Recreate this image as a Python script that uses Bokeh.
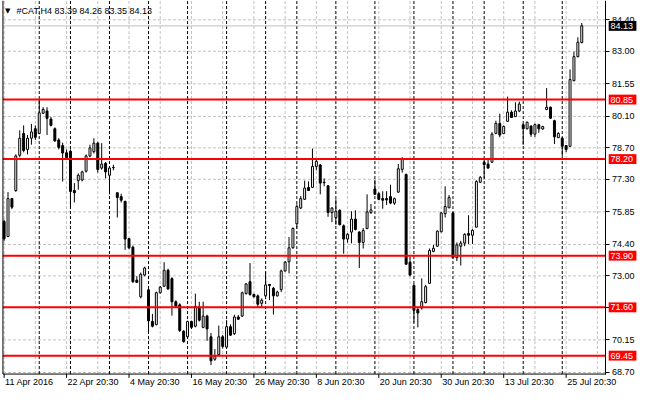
from bokeh.plotting import figure
from bokeh.models import (Range1d, LinearAxis, FixedTicker, PrintfTickFormatter,
                          Label, ColumnDataSource)
from bokeh.core.properties import value
from bokeh.embed import file_html
from bokeh.resources import INLINE

FONT = "Liberation Sans"

title_text = "#CAT,H4  83.39 84.26 83.35 84.13"

opens = [
    75.42, 74.75, 76.44, 76.80, 78.37, 79.34, 78.63, 79.13, 79.55, 79.34,
    80.24, 80.34, 79.98, 79.55, 79.05, 78.80, 78.48, 78.55, 76.80, 77.24,
    77.27, 77.66, 78.34, 78.53, 78.91, 77.80, 78.01, 77.48, 77.82, 76.70,
    76.53, 76.32, 74.66, 74.28, 72.81, 72.07, 73.04, 72.38, 70.97, 70.83,
    72.25, 72.54, 73.25, 72.88, 71.85, 71.71, 70.54, 70.29, 70.97, 70.76,
    71.60, 70.71, 71.21, 70.29, 69.29, 69.50, 70.29, 69.83, 70.74, 70.43,
    71.17, 71.21, 72.21, 72.74, 72.17, 72.11, 71.78, 72.11, 72.62, 72.45,
    72.11, 72.39, 73.22, 73.63, 74.25, 75.32, 76.02, 76.41, 76.94, 76.94,
    77.87, 77.94, 77.17, 77.01, 75.82, 75.60, 75.92, 75.23, 74.64, 74.95,
    75.53, 74.95, 74.49, 75.11, 75.82, 76.87, 76.66, 76.44, 76.44, 76.53,
    76.24, 76.73, 77.74, 77.51, 73.61, 72.57, 71.50, 71.57, 71.81, 72.67,
    74.09, 74.32, 74.96, 75.77, 76.03, 75.80, 73.81, 74.32, 74.46, 74.89,
    74.81, 75.17, 77.17, 78.06, 77.98, 78.06, 79.34, 79.79, 79.34, 79.88,
    80.29, 80.09, 80.34, 79.73, 79.55, 79.67, 79.31, 79.73, 79.54, 80.41,
    80.51, 79.91, 79.15, 79.13, 78.80, 78.77, 81.69, 82.76, 83.39,
]
highs = [
    75.50, 76.73, 76.46, 78.41, 79.48, 79.70, 79.27, 79.77, 79.70, 80.84,
    80.51, 80.51, 80.08, 79.61, 79.13, 78.93, 78.63, 78.63, 77.13, 77.56,
    77.68, 78.41, 78.84, 79.13, 78.97, 78.91, 78.07, 77.86, 77.95, 76.72,
    76.66, 76.34, 74.69, 74.35, 72.99, 73.15, 73.41, 72.42, 71.31, 72.30,
    72.55, 73.61, 73.32, 72.94, 71.91, 71.78, 70.58, 71.01, 71.01, 72.21,
    71.85, 71.85, 71.27, 70.46, 69.74, 70.79, 70.37, 71.03, 70.84, 71.27,
    71.26, 72.30, 72.68, 73.57, 72.21, 72.17, 72.00, 73.16, 72.64, 72.51,
    72.34, 73.28, 73.66, 74.73, 75.16, 76.19, 76.56, 77.24, 77.21, 78.67,
    78.20, 77.98, 77.34, 77.04, 76.06, 76.41, 75.97, 75.29, 74.90, 75.88,
    75.92, 74.99, 75.13, 76.63, 76.20, 77.27, 76.73, 76.77, 76.77, 77.06,
    76.49, 77.98, 78.28, 77.56, 73.85, 72.64, 71.57, 72.89, 72.60, 74.22,
    74.38, 75.03, 75.85, 76.99, 76.60, 75.85, 74.49, 74.56, 74.90, 75.70,
    75.08, 77.26, 77.44, 78.24, 78.20, 79.40, 79.91, 80.22, 79.70, 80.98,
    80.37, 80.73, 80.76, 79.77, 79.87, 79.70, 79.78, 79.77, 79.68, 81.36,
    80.53, 79.95, 79.40, 79.18, 78.82, 82.19, 82.98, 83.62, 84.26,
]
lows = [
    74.56, 74.73, 75.97, 76.74, 78.28, 78.50, 78.41, 78.84, 79.05, 79.31,
    80.21, 79.27, 79.65, 78.97, 78.63, 77.20, 78.20, 76.06, 76.27, 76.84,
    77.21, 77.60, 78.28, 78.45, 77.60, 77.73, 77.34, 76.63, 77.70, 75.60,
    76.27, 74.16, 74.18, 72.69, 72.70, 72.00, 72.98, 70.46, 70.71, 70.80,
    72.21, 72.51, 72.38, 71.23, 71.57, 70.50, 70.03, 70.20, 70.63, 70.71,
    70.97, 70.67, 70.11, 69.03, 69.22, 69.47, 69.77, 69.81, 70.33, 70.37,
    71.06, 71.18, 72.17, 72.12, 72.04, 71.57, 71.57, 72.08, 71.92, 71.28,
    72.08, 72.28, 73.19, 73.11, 74.22, 75.11, 75.97, 76.40, 76.79, 76.91,
    77.70, 76.63, 76.99, 75.63, 75.39, 75.28, 75.25, 73.99, 74.48, 74.45,
    75.03, 73.35, 74.22, 75.08, 75.76, 76.62, 76.37, 75.99, 76.16, 76.19,
    76.16, 76.70, 77.60, 73.49, 72.98, 70.93, 70.71, 71.50, 71.78, 72.64,
    74.05, 74.31, 74.95, 75.60, 76.02, 73.78, 73.66, 73.46, 74.32, 74.42,
    74.42, 75.16, 77.13, 77.34, 77.77, 78.03, 79.31, 79.17, 79.31, 79.87,
    80.04, 80.08, 80.29, 78.84, 79.52, 79.19, 79.19, 79.37, 79.51, 80.38,
    79.99, 78.87, 79.14, 78.34, 78.51, 78.75, 81.66, 82.73, 83.35,
]
closes = [
    74.65, 76.44, 76.06, 78.34, 79.13, 78.58, 79.13, 79.41, 79.17, 80.26,
    80.41, 80.01, 79.70, 79.01, 78.72, 78.47, 78.27, 76.76, 76.70, 77.48,
    77.63, 78.34, 78.70, 78.91, 77.74, 77.98, 77.63, 77.80, 77.83, 76.49,
    76.37, 74.64, 74.25, 72.74, 72.71, 73.07, 73.35, 71.00, 70.76, 72.25,
    72.50, 73.25, 72.42, 71.85, 71.65, 70.57, 70.07, 70.97, 70.71, 71.64,
    71.03, 71.21, 70.64, 69.22, 69.43, 70.29, 69.86, 70.74, 70.36, 71.17,
    71.07, 72.25, 72.64, 72.17, 72.07, 71.74, 71.92, 72.60, 72.57, 72.11,
    72.28, 73.22, 73.61, 74.25, 75.11, 76.09, 76.44, 76.91, 76.80, 77.87,
    78.10, 77.13, 77.15, 75.82, 76.02, 75.88, 75.28, 74.64, 74.85, 75.53,
    75.06, 74.49, 75.02, 75.85, 75.94, 76.63, 76.41, 76.37, 76.38, 76.24,
    76.44, 77.77, 78.23, 73.52, 73.04, 71.47, 71.35, 71.85, 72.52, 74.13,
    74.23, 74.99, 75.80, 76.09, 76.49, 73.81, 74.38, 74.46, 74.85, 74.81,
    75.03, 77.20, 77.39, 77.95, 77.80, 79.31, 79.79, 79.27, 79.65, 80.29,
    80.05, 80.34, 80.65, 79.55, 79.84, 79.31, 79.73, 79.55, 79.65, 80.51,
    80.02, 79.19, 79.34, 78.77, 78.63, 81.74, 82.76, 83.40, 84.13,
]

level_prices = [80.85, 78.20, 73.90, 71.60, 69.45]
bid_price = 84.13
y_ticks = [68.70, 70.15, 71.60, 73.00, 74.40, 75.85, 77.30, 78.70, 80.10, 81.55, 83.00, 84.40]
x_label_bars = [0, 16, 32, 48, 64, 80, 96, 112, 128, 144]
x_label_texts = ["11 Apr 2016", "22 Apr 20:30", "4 May 20:30", "16 May 20:30", "26 May 20:30",
                 "8 Jun 20:30", "20 Jun 20:30", "30 Jun 20:30", "13 Jul 20:30", "25 Jul 20:30"]
week_start_bars = [9, 17, 27, 37, 47, 57, 67, 75, 85, 95, 105, 115, 123, 133, 143]
grid_bars = [0, 8, 16, 24, 32, 40, 48, 56, 64, 72, 80, 88, 96, 104, 112, 120, 128, 136, 144, 152]

# chart window (data units): bars on x, price on y
CX0, CX1 = -0.3, 154.2          # left / right border of the price pane
CY0, CY1 = 68.63, 85.26         # bottom border / top of the pane
TICK_LEN = 0.17                 # small time-axis tick length, in price units
BOX_X, BOX_W, BOX_H = 158.45, 7.1, 0.44   # price tag boxes on the scale
TEXT_X = 155.35
TIME_Y = 68.49

n = len(closes)
idx = list(range(n))
up = [i for i in idx if closes[i] >= opens[i]]
dn = [i for i in idx if closes[i] < opens[i]]


def body_src(ids):
    return ColumnDataSource(dict(
        x=ids,
        top=[max(opens[i], closes[i]) for i in ids],
        bottom=[min(opens[i], closes[i]) for i in ids],
    ))


p = figure(width=644, height=394, output_backend="svg", toolbar_location=None,
           x_range=Range1d(-0.925, 164.075), y_range=Range1d(67.72, 85.26),
           x_axis_location=None, y_axis_location=None,
           min_border=0, min_border_left=0, min_border_right=0,
           min_border_top=0, min_border_bottom=0, outline_line_color=None,
           background_fill_color="white", border_fill_color="white")
p.grid.visible = False

# price scale on the right border of the pane
ya = LinearAxis(fixed_location=CX1, bounds=(CY0, CY1))
ya.ticker = FixedTicker(ticks=y_ticks)
ya.formatter = PrintfTickFormatter(format="%.2f")
ya.major_tick_out = 4
ya.major_tick_in = 0
ya.minor_tick_out = 0
ya.minor_tick_in = 0
ya.minor_tick_line_color = None
ya.major_label_standoff = 2
ya.major_label_text_font = FONT
ya.major_label_text_font_size = "9px"
ya.major_label_text_color = "black"
ya.axis_line_color = "black"
p.add_layout(ya, "right")

dash_grey = "#c0c0c0"
# horizontal grid at price ticks
p.segment(x0=[CX0] * len(y_ticks), y0=y_ticks, x1=[CX1] * len(y_ticks), y1=y_ticks,
          line_color=dash_grey, line_dash="3 2", line_width=1)
# vertical grid every 8 bars
p.segment(x0=grid_bars, y0=[CY0] * len(grid_bars), x1=grid_bars, y1=[CY1] * len(grid_bars),
          line_color=dash_grey, line_dash="3 2", line_width=1)
# week separators
p.segment(x0=week_start_bars, y0=[CY0] * len(week_start_bars), x1=week_start_bars,
          y1=[CY1] * len(week_start_bars), line_color="black", line_dash="3 2", line_width=1)
# bid line
p.segment(x0=[CX0], y0=[bid_price], x1=[CX1], y1=[bid_price], line_color=dash_grey, line_width=1)

# candles
p.segment(x0=idx, y0=lows, x1=idx, y1=highs, line_color="black", line_width=1)
p.vbar(x="x", top="top", bottom="bottom", width=0.5, source=body_src(up),
       fill_color="white", line_color="black", line_width=1)
p.vbar(x="x", top="top", bottom="bottom", width=0.5, source=body_src(dn),
       fill_color="black", line_color="black", line_width=1)

# horizontal levels
nl = len(level_prices)
p.segment(x0=[CX0] * nl, y0=level_prices, x1=[CX1] * nl, y1=level_prices,
          line_color="#ff0000", line_width=2)

# borders: left, bottom
p.segment(x0=[CX0, CX0], y0=[CY0, CY0], x1=[CX0, CX1], y1=[CY1, CY0],
          line_color="black", line_width=1)
# time ticks
p.segment(x0=x_label_bars, y0=[CY0] * len(x_label_bars), x1=x_label_bars,
          y1=[CY0 - TICK_LEN] * len(x_label_bars), line_color="black", line_width=1)
# time labels
p.text(x=x_label_bars, y=[TIME_Y] * len(x_label_bars), text=x_label_texts,
       text_font=value(FONT), text_font_size=value("9px"), text_color="black",
       text_align="left", text_baseline="top", x_offset=1)

# price tags (drawn above the scale labels)
tag_prices = level_prices + [bid_price]
tag_colors = ["#ff0000"] * nl + ["black"]
p.rect(x=[BOX_X] * len(tag_prices), y=tag_prices, width=BOX_W, height=BOX_H,
       fill_color=tag_colors, line_color=None, level="overlay")
p.text(x=[TEXT_X] * len(tag_prices), y=tag_prices, text=[f"{v:.2f}" for v in tag_prices],
       text_font=value(FONT), text_font_size=value("9px"), text_color="white",
       text_align="left", text_baseline="middle", level="overlay")

# title
p.add_layout(Label(x=0.2, y=84.80, text="\u25bc", text_font="DejaVu Sans",
                   text_font_size="7px", text_color="black", text_align="left",
                   text_baseline="middle"))
p.add_layout(Label(x=3.2, y=84.80, text=title_text, text_font=FONT,
                   text_font_size="9px", text_color="black", text_align="left",
                   text_baseline="middle"))

open("out.html", "w").write(file_html(p, INLINE))
